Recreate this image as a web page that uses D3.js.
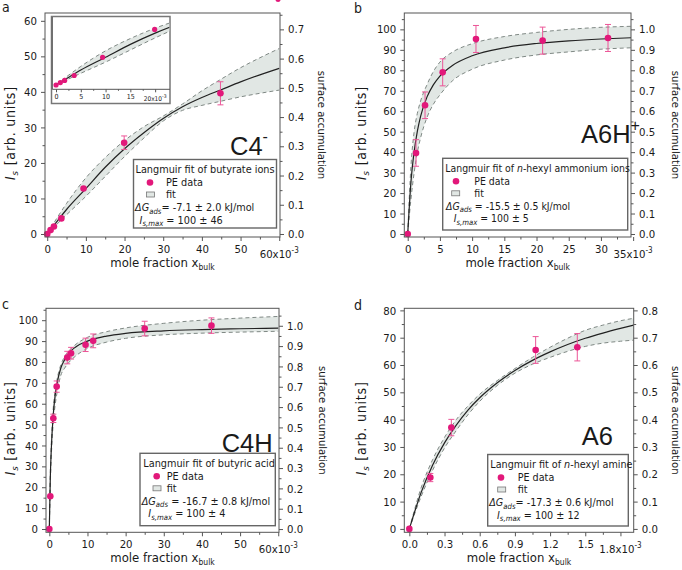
<!DOCTYPE html>
<html><head><meta charset="utf-8">
<script src="https://cdn.jsdelivr.net/npm/d3@7"></script>
<style>
body{margin:0;background:#fff}
svg{display:block;font-family:"DejaVu Sans Condensed","DejaVu Sans",sans-serif}
</style></head><body>
<svg id="chart" width="682" height="570"></svg>
<script>
// ---- panel a : butyrate ions (C4-) ----
const aX = [0, 0.87, 1.74, 3.66, 9.4, 19.9, 44.8];
const aY = [0, 1.1, 2.1, 4.4, 12.8, 25.7, 39.6];
const aErr = [0, 0.3, 0.4, 0.5, 0.95, 1.9, 3.25];
const aFitX = [0, 2, 5, 10, 15, 20, 25, 30, 35, 40, 45, 50, 55, 60];
const aFit = [0, 2.8, 6.9, 12.8, 18.8, 24, 28.5, 32.5, 35.8, 38.4, 40.6, 42.8, 44.8, 46.6];
const aFitHi = [0, 3.6, 8.6, 15.8, 21.5, 26.3, 30.2, 33.2, 36.6, 40.3, 43.6, 46.8, 49.6, 52.2];
const aFitLo = [0, 2.2, 5.4, 10.6, 16.2, 21.8, 27, 31.8, 34.8, 36.2, 37.4, 38.6, 39.6, 40.5];

// ---- panel b : n-hexyl ammonium ions (A6H+) ----
const bX = [0, 1.29, 2.69, 5.43, 10.6, 20.95, 31.1];
const bY = [0, 39.6, 62.9, 79, 95.3, 94.5, 95.8];
const bErr = [0, 6.5, 6.5, 6.6, 6.6, 6.6, 6.6];
const bFitX = [0, 0.5, 1, 1.5, 2, 3, 4, 5, 7, 10, 15, 20, 25, 30, 34.7];
const bFit = [0, 25.3, 40.3, 50.3, 57.5, 67, 73, 77.2, 82.5, 87.1, 91, 93.1, 94.4, 95.3, 95.9];
const bFitHi = [0, 33, 50, 59, 65, 73, 79.5, 84, 89, 93, 96.5, 98.5, 100, 101, 101.5];
const bFitLo = [0, 17, 30, 40, 47, 57, 63.5, 68, 75, 80.5, 85, 87.5, 89, 90.3, 91];

// ---- panel c : butyric acid (C4H) ----
const cX = [0, 0.26, 1.05, 1.93, 4.7, 5.7, 9.5, 11.5, 25, 42.5];
const cY = [0, 15.7, 53, 68.2, 82.1, 84.2, 88.2, 90.1, 96, 97.4];
const cErr = [0, 0, 2, 2.7, 3, 2.8, 3.2, 3.3, 3.5, 3.7];
const cFitX = [0, 0.25, 0.5, 1, 1.5, 2, 3, 4, 5, 7, 10, 15, 20, 30, 40, 50, 60];
const cFit = [0, 24, 37.5, 54, 63.5, 69.5, 77, 81, 84, 87.3, 90, 92.4, 93.7, 94.9, 95.5, 95.9, 96.2];
const cFitHi = [0, 26, 40, 57, 66, 71.5, 78.5, 82.5, 85, 88.5, 91.8, 94.5, 96.3, 98.5, 100, 101, 101.8];
const cFitLo = [0, 21, 34, 50, 59, 65, 73.5, 77, 79.5, 83, 86.5, 89.5, 91.3, 93, 93.8, 94.3, 94.7];

// ---- panel d : n-hexyl amine (A6) ----
const dX = [0, 0.179, 0.358, 1.077, 1.432];
const dY = [0, 18.8, 37.1, 65.5, 66.5];
const dErr = [0, 1.5, 3, 4.9, 5];
const dFitX = [0, 0.1, 0.2, 0.3, 0.4, 0.5, 0.6, 0.75, 0.9, 1.05, 1.2, 1.35, 1.5, 1.65, 1.8, 1.913];
const dFit = [0, 13.3, 23.5, 31.5, 38, 43.5, 48, 53.5, 58, 61.7, 64.8, 67.5, 69.8, 71.7, 73.4, 74.6];
const dFitHi = [0, 15, 25.5, 33.5, 40, 45, 49.3, 54.3, 58.7, 62.8, 66.5, 69.8, 72.7, 74.6, 76.2, 77.1];
const dFitLo = [0, 11.8, 21.6, 29.6, 36, 41.8, 46.7, 52.5, 57, 60.3, 62.8, 65, 66.8, 68, 68.7, 69.1];

// tick values
const xTicksA = [0, 10, 20, 30, 40, 50, 60];
const xTicksB = [0, 5, 10, 15, 20, 25, 30, 35];
const xTicksD = [0, 0.3, 0.6, 0.9, 1.2, 1.5, 1.8];
const yTicksA = [0, 10, 20, 30, 40, 50, 60];
const yTicksB = [0, 10, 20, 30, 40, 50, 60, 70, 80, 90, 100];
const yTicksD = [0, 10, 20, 30, 40, 50, 60, 70, 80];
const rTicksA = [0, 0.1, 0.2, 0.3, 0.4, 0.5, 0.6, 0.7];
const rTicksB = [0, 0.1, 0.2, 0.3, 0.4, 0.5, 0.6, 0.7, 0.8, 0.9, 1.0];
const rTicksD = [0, 0.1, 0.2, 0.3, 0.4, 0.5, 0.6, 0.7, 0.8];
const insetTicks = [0, 5, 10, 15, 20];

const svg = d3.select("#chart");
const PINK = "#e2187a", ERRC = "#ec5597", BAND = "#e1e7e4", DASH = "#7f8884", FRAME = "#555", TXT = "#1a1a1a";
const BIG = "'Liberation Sans', Arial, sans-serif";

function rich(sel, x, y, parts, size) {
    const t = sel.append("text").attr("x", x).attr("y", y)
        .attr("font-size", size).attr("fill", TXT);
    parts.forEach(p => {
        const s = t.append("tspan").text(p.t);
        if (p.i) s.attr("font-style", "italic");
        if (p.fs) s.attr("font-size", p.fs);
        if (p.dy) s.attr("dy", p.dy);
    });
    return t;
}

// minor ticks halfway between majors
const halves = (t) => t.slice(1).map((v, i) => (v + t[i]) / 2);

function styleAxis(g, fs) {
    g.attr("font-family", null).attr("font-size", null);
    g.select(".domain").remove();
    g.selectAll("line").attr("stroke", FRAME);
    g.selectAll("text").attr("font-size", fs).attr("fill", TXT);
}

function drawFit(sel, fit, x, y) {
    sel.append("path").datum(fit).attr("fill", BAND)
        .attr("d", d3.area().x(d => x(d.x)).y0(d => y(d.lo)).y1(d => y(d.hi)).curve(d3.curveMonotoneX));
    ["hi", "lo"].forEach(k => sel.append("path").datum(fit)
        .attr("fill", "none").attr("stroke", DASH).attr("stroke-width", 1).attr("stroke-dasharray", "4,3")
        .attr("d", d3.line().x(d => x(d.x)).y(d => y(d[k])).curve(d3.curveMonotoneX)));
    sel.append("path").datum(fit)
        .attr("fill", "none").attr("stroke", "#222").attr("stroke-width", 1.2)
        .attr("d", d3.line().x(d => x(d.x)).y(d => y(d.m)).curve(d3.curveMonotoneX));
}

function drawPanel(c) {
    const [x0, y0, x1, y1] = c.frame;
    const x = d3.scaleLinear().domain(c.xDom).range([x0, x1]);
    const y = d3.scaleLinear().domain(c.yDom).range([y1, y0]);
    const y2 = d3.scaleLinear().domain(c.rDom).range([y1, y0]);
    const g = svg.append("g");

    svg.append("clipPath").attr("id", "clip-" + c.id)
        .append("rect").attr("x", x0).attr("y", y0).attr("width", x1 - x0).attr("height", y1 - y0);

    const fit = c.fitX.map((v, i) => ({x: v, m: c.fit[i], hi: c.fitHi[i], lo: c.fitLo[i]}));
    const plot = g.append("g").attr("clip-path", `url(#clip-${c.id})`);
    drawFit(plot, fit, x, y);

    // axes
    const fs = 11.3;
    const xMax = c.xTicks[c.xTicks.length - 1];
    g.append("g").attr("transform", `translate(0,${y1})`)
        .call(d3.axisBottom(x).tickValues(c.xTicks).tickSize(4).tickPadding(4)
            .tickFormat(v => v === xMax ? "" : c.xFmt(v)))
        .call(s => styleAxis(s, fs));
    g.append("g").attr("transform", `translate(0,${y1})`)
        .call(d3.axisBottom(x).tickValues(halves(c.xTicks)).tickSize(2.5).tickFormat(""))
        .call(s => styleAxis(s, fs));
    rich(g, x(xMax), y1 + 20.5, [{t: c.xFmt(xMax) + "x10"}, {t: "-3", fs: 8, dy: -5}], fs)
        .attr("text-anchor", "middle");

    const yMinor = halves(c.yTicks.concat([c.yTicks[c.yTicks.length - 1] + (c.yTicks[1] - c.yTicks[0])]))
        .filter(v => v <= c.yDom[1]);
    g.append("g").attr("transform", `translate(${x0},0)`)
        .call(d3.axisLeft(y).tickValues(c.yTicks).tickSize(4).tickPadding(4).tickFormat(d3.format("d")))
        .call(s => styleAxis(s, fs));
    g.append("g").attr("transform", `translate(${x0},0)`)
        .call(d3.axisLeft(y).tickValues(yMinor).tickSize(2.5).tickFormat(""))
        .call(s => styleAxis(s, fs));

    const rMinor = halves(c.rTicks.concat([c.rTicks[c.rTicks.length - 1] + 0.1]))
        .filter(v => v <= c.rDom[1]);
    g.append("g").attr("transform", `translate(${x1},0)`)
        .call(d3.axisRight(y2).tickValues(c.rTicks).tickSize(4).tickPadding(4).tickFormat(d3.format(".1f")))
        .call(s => styleAxis(s, fs));
    g.append("g").attr("transform", `translate(${x1},0)`)
        .call(d3.axisRight(y2).tickValues(rMinor).tickSize(2.5).tickFormat(""))
        .call(s => styleAxis(s, fs));

    // error bars + points
    const pts = c.px.map((v, i) => ({x: v, y: c.py[i], e: c.pe[i]}));
    const eb = g.append("g").attr("stroke", ERRC).attr("stroke-width", 1);
    const withBars = pts.filter(d => y(d.y - d.e) - y(d.y + d.e) > 7);
    eb.selectAll(".v").data(withBars).join("line")
        .attr("x1", d => x(d.x)).attr("x2", d => x(d.x))
        .attr("y1", d => y(d.y - d.e)).attr("y2", d => y(d.y + d.e));
    eb.selectAll(".c1").data(withBars).join("line")
        .attr("x1", d => x(d.x) - 3).attr("x2", d => x(d.x) + 3)
        .attr("y1", d => y(d.y + d.e)).attr("y2", d => y(d.y + d.e));
    eb.selectAll(".c2").data(withBars).join("line")
        .attr("x1", d => x(d.x) - 3).attr("x2", d => x(d.x) + 3)
        .attr("y1", d => y(d.y - d.e)).attr("y2", d => y(d.y - d.e));
    g.append("g").selectAll("circle").data(pts).join("circle")
        .attr("cx", d => x(d.x)).attr("cy", d => y(d.y)).attr("r", 3.3).attr("fill", PINK);

    g.append("rect").attr("x", x0).attr("y", y0).attr("width", x1 - x0).attr("height", y1 - y0)
        .attr("fill", "none").attr("stroke", FRAME).attr("stroke-width", 1);

    // titles
    rich(g, 0, 0, [{t: "mole fraction x"}, {t: "bulk", fs: 8.5, dy: 3}], 13)
        .attr("x", (x0 + x1) / 2).attr("y", y1 + 30).attr("text-anchor", "middle");
    rich(g, 0, 0, [{t: "I", i: true}, {t: "s", i: true, fs: 9.5, dy: 3}, {t: " [arb. units]", dy: -3}], 14)
        .attr("text-anchor", "middle").attr("letter-spacing", 0.8)
        .attr("transform", `translate(${c.lTitleX},${(y0 + y1) / 2 + 8}) rotate(-90)`);
    rich(g, 0, 0, [{t: "surface accumulation"}], 11.2)
        .attr("text-anchor", "middle")
        .attr("transform", `translate(${c.rTitleX},${(y0 + y1) / 2}) rotate(90)`);
    rich(g, c.letter[1], c.letter[2], [{t: c.letter[0]}], 14);

    // big species label
    rich(g, c.label.x, c.label.y, c.label.parts, 25.5).attr("font-family", BIG);

    // legend box
    const L = c.legend;
    const lg = g.append("g");
    lg.append("rect").attr("x", L.x).attr("y", L.y).attr("width", L.w).attr("height", L.h)
        .attr("fill", "#fff").attr("stroke", "#666").attr("stroke-width", 1.4);
    const lfs = L.fs;
    rich(lg, L.x + L.tx, L.y + 13.5, L.title, lfs);
    lg.append("circle").attr("cx", L.x + L.dot).attr("cy", L.y + 23).attr("r", 3.3).attr("fill", PINK);
    rich(lg, L.x + L.lab, L.y + 26.5, [{t: "PE data"}], lfs);
    lg.append("rect").attr("x", L.x + L.sw).attr("y", L.y + 32.5).attr("width", 8).attr("height", 5)
        .attr("fill", BAND).attr("stroke", "#777").attr("stroke-width", 0.8);
    rich(lg, L.x + L.lab, L.y + 38.5, [{t: "fit"}], lfs);
    rich(lg, L.x + L.gx, L.y + 51.5, [{t: "ΔG", i: true}, {t: "ads", i: true, fs: 7.7, dy: 2.5},
        {t: L.gap + "= " + L.dg, dy: -2.5}], lfs);
    rich(lg, L.x + L.ix, L.y + 64, [{t: "I", i: true}, {t: "s,max", i: true, fs: 7.7, dy: 2.5},
        {t: " =  " + L.imax, dy: -2.5}], lfs);
}

const fmtInt = d3.format("d");
const fmtD = d3.format(".1f");

drawPanel({
    id: "a", frame: [45, 13, 280, 237], xDom: [-0.57, 60.2], yDom: [-0.84, 62.2], rDom: [-0.0103, 0.756],
    xTicks: xTicksA, xFmt: fmtInt, yTicks: yTicksA, rTicks: rTicksA,
    px: aX, py: aY, pe: aErr, fitX: aFitX, fit: aFit, fitHi: aFitHi, fitLo: aFitLo,
    lTitleX: 15, rTitleX: 317.5, letter: ["a", 2, 12],
    label: {x: 230, y: 155, parts: [{t: "C4"}, {t: "-", fs: 16, dy: -13}]},
    legend: {x: 133.5, y: 159.5, w: 143, h: 68.5, fs: 10.8, tx: 2, dot: 16.5, lab: 32.5, sw: 13, gx: 1.5, ix: 6, gap: "",
        title: [{t: "Langmuir fit of butyrate ions"}], dg: "-7.1 ± 2.0 kJ/mol", imax: "100 ± 46"}
});

drawPanel({
    id: "b", frame: [404.3, 13, 631, 237], xDom: [-0.53, 34.67], yDom: [-1.47, 108], rDom: [-0.0147, 1.08],
    xTicks: xTicksB, xFmt: fmtInt, yTicks: yTicksB, rTicks: rTicksB,
    px: bX, py: bY, pe: bErr, fitX: bFitX, fit: bFit, fitHi: bFitHi, fitLo: bFitLo,
    lTitleX: 366, rTitleX: 671.5, letter: ["b", 354, 13],
    label: {x: 581, y: 143.3, parts: [{t: "A6H"}, {t: "+", fs: 16, dy: -12}]},
    legend: {x: 442.7, y: 158.3, w: 185, h: 71.7, fs: 10.4, tx: 2.6, dot: 13.3, lab: 31.6, sw: 9, gx: 3.3, ix: 11, gap: " ",
        title: [{t: "Langmuir fit of "}, {t: "n", i: true}, {t: "-hexyl ammonium ions"}],
        dg: "-15.5 ± 0.5 kJ/mol", imax: "100 ± 5"}
});

drawPanel({
    id: "c", frame: [46, 308.3, 279, 532.3], xDom: [-0.87, 60.2], yDom: [-1.58, 105.7], rDom: [-0.016, 1.086],
    xTicks: xTicksA, xFmt: fmtInt, yTicks: yTicksB, rTicks: rTicksB,
    px: cX, py: cY, pe: cErr, fitX: cFitX, fit: cFit, fitHi: cFitHi, fitLo: cFitLo,
    lTitleX: 15, rTitleX: 319, letter: ["c", 2, 309],
    label: {x: 221.7, y: 451.7, parts: [{t: "C4H"}]},
    legend: {x: 140, y: 453.3, w: 135.3, h: 72.4, fs: 10.8, tx: 3.3, dot: 16.7, lab: 26.7, sw: 13, gx: 1.7, ix: 8.3, gap: " ",
        title: [{t: "Langmuir fit of butyric acid"}], dg: "-16.7 ± 0.8 kJ/mol", imax: "100 ± 4"}
});

drawPanel({
    id: "d", frame: [404.3, 308.3, 633.7, 532.3], xDom: [-0.043, 1.913], yDom: [-1.24, 80.76], rDom: [-0.0124, 0.8076],
    xTicks: xTicksD, xFmt: fmtD, yTicks: yTicksD, rTicks: rTicksD,
    px: dX, py: dY, pe: dErr, fitX: dFitX, fit: dFit, fitHi: dFitHi, fitLo: dFitLo,
    lTitleX: 366, rTitleX: 671.5, letter: ["d", 354, 310],
    label: {x: 581.7, y: 445, parts: [{t: "A6"}]},
    legend: {x: 487.7, y: 454.5, w: 140.6, h: 71.5, fs: 10.7, tx: 2.6, dot: 13.3, lab: 30, sw: 10, gx: 1.6, ix: 9.3, gap: "",
        title: [{t: "Langmuir fit of "}, {t: "n", i: true}, {t: "-hexyl amine"}],
        dg: "-17.3 ± 0.6 kJ/mol", imax: "100 ± 12"}
});

// ---- inset of panel a (low concentration zoom) ----
const ins = svg.append("g");
ins.append("rect").attr("x", 51.5).attr("y", 16.5).attr("width", 118.5).attr("height", 87)
    .attr("fill", "#fff").attr("stroke", "#777").attr("stroke-width", 1.5);
const ix = d3.scaleLinear().domain([-0.75, 23.0]).range([52.3, 170]);
const iy = d3.scaleLinear().domain([-2.0, 31.8]).range([89.3, 16.3]);
svg.append("clipPath").attr("id", "clip-inset")
    .append("rect").attr("x", 52.3).attr("y", 17).attr("width", 117).attr("height", 72.3);
const ifit = aFitX.map((v, i) => ({x: v, m: aFit[i], hi: aFitHi[i], lo: aFitLo[i]}));
drawFit(ins.append("g").attr("clip-path", "url(#clip-inset)"), ifit, ix, iy);
ins.selectAll("circle").data(aX.map((v, i) => ({x: v, y: aY[i]}))).join("circle")
    .attr("cx", d => ix(d.x)).attr("cy", d => iy(d.y)).attr("r", 2.6).attr("fill", PINK);
ins.append("g").attr("transform", "translate(0,89.3)")
    .call(d3.axisBottom(ix).tickValues(insetTicks).tickSize(3).tickPadding(2)
        .tickFormat(v => v === 20 ? "" : v))
    .call(s => styleAxis(s, 7));
ins.append("g").attr("transform", "translate(0,89.3)")
    .call(d3.axisBottom(ix).tickValues(halves(insetTicks)).tickSize(1.5).tickFormat(""))
    .call(s => styleAxis(s, 7));
ins.append("line").attr("x1", 52.3).attr("x2", 170).attr("y1", 89.3).attr("y2", 89.3).attr("stroke", FRAME);
ins.append("line").attr("x1", 52.3).attr("x2", 52.3).attr("y1", 17).attr("y2", 89.3).attr("stroke", FRAME);
rich(ins, ix(20), 100.5, [{t: "20x10"}, {t: "-3", fs: 5, dy: -3}], 6.5).attr("text-anchor", "middle");
</script>
</body></html>
